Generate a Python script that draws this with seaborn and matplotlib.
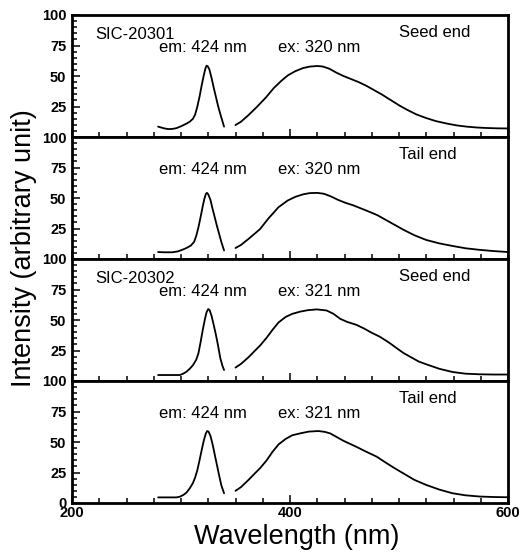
import matplotlib
matplotlib.use("Agg")
import matplotlib.pyplot as plt
import numpy as np
import pandas as pd
import seaborn as sns
from matplotlib.ticker import MultipleLocator, FixedLocator

# ---------------- data ----------------
sample_labels = ["SIC-20301", "", "SIC-20302", ""]
end_labels = ["Seed end", "Tail end", "Seed end", "Tail end"]
em_labels = ["em: 424 nm", "em: 424 nm", "em: 424 nm", "em: 424 nm"]
ex_labels = ["ex: 320 nm", "ex: 320 nm", "ex: 321 nm", "ex: 321 nm"]

# left (excitation) band
exc_wl_1 = [279, 284, 288, 292, 296, 300, 304, 308, 311, 313, 315, 317, 319, 321, 322.5, 323.5, 324.5, 326, 328, 330, 332, 334, 336, 338, 339.5]
exc_int_1 = [8.5, 7.2, 6.5, 6.6, 7.3, 8.8, 10.5, 12.5, 15.0, 18.5, 25.0, 33.0, 42.5, 51.0, 56.5, 58.5, 58.0, 55.5, 48.5, 40.5, 33.0, 25.5, 19.0, 13.0, 8.5]
exc_wl_2 = [279, 285, 292, 297, 301, 305, 309, 312, 314, 316, 318, 320, 321.5, 322.8, 323.8, 325, 327, 329, 331, 333, 335, 337, 339.5]
exc_int_2 = [5.7, 5.5, 5.5, 6.2, 7.5, 9.0, 11.0, 14.0, 19.0, 26.0, 34.5, 43.5, 49.5, 53.3, 54.2, 53.0, 48.5, 41.0, 34.0, 27.0, 20.5, 14.0, 7.0]
exc_wl_3 = [279, 290, 299, 302, 305, 308, 311, 314, 316, 318, 320, 322, 323.5, 325, 326.3, 328, 330, 332, 334, 336, 338, 339.5]
exc_int_3 = [4.9, 4.9, 4.9, 6.0, 7.6, 10.0, 13.0, 17.5, 22.7, 32.0, 42.0, 51.0, 56.5, 59.0, 58.0, 53.5, 46.0, 38.0, 29.0, 19.0, 12.5, 9.0]
exc_wl_4 = [279, 290, 296, 299, 302, 305, 308, 311, 313, 315, 317, 319, 321, 322.8, 324, 325.3, 327, 329, 331, 333, 335, 337, 339.5]
exc_int_4 = [4.6, 4.6, 4.6, 5.2, 6.5, 8.5, 12.0, 16.5, 21.0, 27.0, 35.0, 43.5, 51.5, 57.0, 59.0, 58.5, 55.0, 48.0, 39.5, 31.0, 22.5, 14.5, 8.0]

# right (emission) band
emi_wl_1 = [350, 355, 362, 370, 378, 385, 392, 398, 405, 412, 418, 425, 430, 436, 442, 449, 456, 463, 470, 476, 484, 492, 500, 507, 516, 525, 534, 544, 553, 562, 571, 580, 590, 600]
emi_int_1 = [9.8, 12.5, 18.0, 25.0, 32.5, 40.0, 46.0, 50.5, 54.0, 56.5, 57.7, 58.2, 57.8, 56.0, 53.0, 50.0, 47.5, 45.0, 42.0, 39.0, 35.0, 30.5, 26.0, 22.5, 18.5, 15.5, 13.0, 11.0, 9.5, 8.5, 7.8, 7.4, 7.1, 7.0]
emi_wl_2 = [350, 355, 362, 372.5, 380, 389.5, 398, 405, 412, 418, 425, 431, 437, 444, 451, 458, 465, 472, 480, 488, 496, 504, 514, 525, 537, 549, 561, 574, 587, 600]
emi_int_2 = [9.0, 11.5, 16.5, 24.5, 33.0, 42.5, 48.0, 51.0, 53.0, 54.0, 54.2, 53.5, 51.5, 48.5, 46.0, 44.0, 41.5, 39.0, 36.0, 32.0, 28.0, 24.0, 19.5, 15.6, 12.8, 10.7, 8.8, 7.5, 6.5, 5.7]
emi_wl_3 = [350, 355, 362, 368, 372.5, 378.6, 384, 389.5, 396, 402, 409, 416, 424.5, 433.6, 440, 446, 452, 461, 468, 475, 482, 490, 497, 504, 512, 518, 525, 537, 549, 561, 574, 587, 600]
emi_int_3 = [11.0, 14.0, 19.5, 25.0, 29.0, 35.5, 42.0, 48.0, 52.5, 55.0, 56.8, 58.0, 58.7, 57.8, 55.0, 51.0, 48.6, 46.0, 43.0, 39.5, 36.5, 32.0, 27.5, 23.0, 19.0, 16.0, 13.7, 10.0, 7.4, 6.0, 5.5, 5.3, 5.3]
emi_wl_4 = [350, 355, 362, 368, 372.5, 378.6, 384, 389.5, 396, 402, 409, 417, 426, 432, 437, 443, 449, 455, 461, 470, 479.5, 488, 496, 504, 514, 525, 537, 549, 561, 574, 587, 600]
emi_int_4 = [10.0, 13.0, 19.0, 24.5, 28.5, 35.0, 42.0, 48.0, 52.5, 55.5, 57.0, 58.5, 59.0, 58.3, 57.0, 54.0, 51.0, 48.5, 46.0, 42.0, 38.0, 33.0, 28.5, 24.3, 19.0, 14.8, 11.0, 8.0, 6.3, 5.3, 4.9, 4.7]

exc_wl = [exc_wl_1, exc_wl_2, exc_wl_3, exc_wl_4]
exc_int = [exc_int_1, exc_int_2, exc_int_3, exc_int_4]
emi_wl = [emi_wl_1, emi_wl_2, emi_wl_3, emi_wl_4]
emi_int = [emi_int_1, emi_int_2, emi_int_3, emi_int_4]

y_ticks = [0, 25, 50, 75, 100]
x_ticks = [200, 400, 600]

# ---------------- style ----------------
sns.set_theme(style="ticks")
plt.rcParams["font.family"] = ["Liberation Sans", "DejaVu Sans"]
plt.rcParams["text.color"] = "black"
plt.rcParams["axes.labelcolor"] = "black"
plt.rcParams["xtick.color"] = "black"
plt.rcParams["ytick.color"] = "black"

W, H = 529, 554
fig = plt.figure(figsize=(W / 100, H / 100), dpi=100)
axes = fig.subplots(4, 1, sharex=True, gridspec_kw=dict(hspace=0))
fig.subplots_adjust(left=72 / W, right=508 / W, top=1 - 15 / H, bottom=1 - 503 / H)

text_kw = dict(fontsize=12, color="black", va="center", ha="left")
for i, ax in enumerate(axes):
    sns.lineplot(x=exc_wl[i], y=exc_int[i], ax=ax, color="black", lw=1.3, sort=False)
    sns.lineplot(x=emi_wl[i], y=emi_int[i], ax=ax, color="black", lw=1.3, sort=False)
    ax.set_xlim(200, 600)
    ax.set_ylim(0, 100)
    ax.xaxis.set_major_locator(FixedLocator(x_ticks))
    ax.xaxis.set_minor_locator(MultipleLocator(25))
    ax.set_yticks(y_ticks)
    labels = [str(v) for v in y_ticks]
    if i < 3:
        labels[0] = ""
    ax.set_yticklabels(labels)
    ax.yaxis.set_minor_locator(MultipleLocator(5))
    ax.tick_params(which="both", direction="in", top=False, right=False, width=1.1,
                   colors="black", labelsize=10.5)
    ax.tick_params(which="major", length=6)
    ax.tick_params(axis="y", which="major", pad=4)
    ax.tick_params(axis="x", which="major", pad=2)
    ax.tick_params(which="minor", length=3.5)
    for lab in ax.get_yticklabels() + ax.get_xticklabels():
        lab.set_fontweight("bold")
    for sp in ax.spines.values():
        sp.set_visible(True)
        sp.set_linewidth(2)
        sp.set_color("black")
    ax.set_facecolor("white")
    ax.set_xlabel("")
    ax.set_ylabel("")
    if sample_labels[i]:
        ax.text(221, 84, sample_labels[i], **text_kw)
    ax.text(280, 73, em_labels[i], **text_kw)
    ax.text(389, 73, ex_labels[i], **text_kw)
    ax.text(500, 86, end_labels[i], **text_kw)

fig.text(297 / W, 1 - 537 / H, "Wavelength (nm)", fontsize=19.5, ha="center", va="center",
         color="black")
fig.text(24 / W, 1 - 248 / H, "Intensity (arbitrary unit)", fontsize=19.5,
         ha="center", va="center", rotation=90, color="black")

fig.savefig("out.png", dpi=100, facecolor="white")
